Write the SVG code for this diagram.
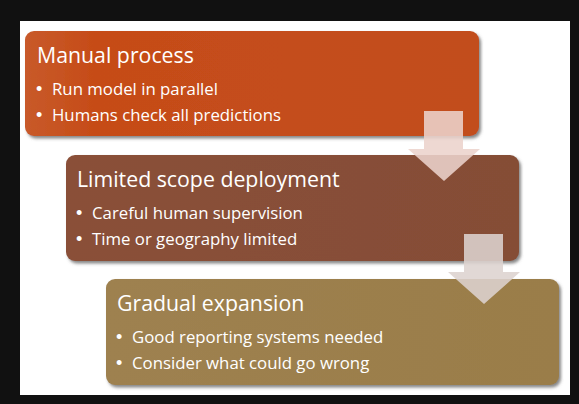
<svg xmlns="http://www.w3.org/2000/svg" width="579" height="404" viewBox="0 0 579 404">
  <defs>
    <filter id="sh" x="-5%" y="-10%" width="115%" height="130%">
      <feDropShadow dx="2" dy="2.5" stdDeviation="1.6" flood-color="#555" flood-opacity="0.7"/>
    </filter>
    <linearGradient id="g1" x1="0" y1="0" x2="1" y2="0">
      <stop offset="0" stop-color="#C85A2A"/>
      <stop offset="0.15" stop-color="#C64C18"/>
      <stop offset="1" stop-color="#C24E1E"/>
    </linearGradient>
    <linearGradient id="g2" x1="0" y1="0" x2="1" y2="0">
      <stop offset="0" stop-color="#8A5039"/>
      <stop offset="1" stop-color="#854D36"/>
    </linearGradient>
    <linearGradient id="g3" x1="0" y1="0" x2="1" y2="0">
      <stop offset="0" stop-color="#9E8150"/>
      <stop offset="1" stop-color="#9A7D49"/>
    </linearGradient>
    <style>
      .box { filter: url(#sh); }
      .title { font-family: "Open Sans", "Noto Sans", sans-serif; font-size: 21.3px; fill: #FFFFFF; }
      .item { font-family: "Open Sans", "Noto Sans", sans-serif; font-size: 16.8px; fill: #FFFFFF; }
      .bul { font-family: "Liberation Sans", sans-serif; font-size: 18px; fill: #FFFFFF; }
      .a1 { fill: #ECD3CC; fill-opacity: 0.88; }
      .a2 { fill: #DDD3CF; fill-opacity: 0.88; }
    </style>
  </defs>
  <rect x="0" y="0" width="579" height="404" fill="#111111"/>
  <rect x="20" y="21" width="550" height="374" fill="#FFFFFF"/>

  <g id="node-manual">
    <rect class="box" x="25" y="31" width="454" height="105" rx="9" fill="url(#g1)"/>
    <text class="title" x="37" y="63">Manual process</text>
    <text class="bul" x="36" y="95">•</text>
    <text class="item" x="52" y="95">Run model in parallel</text>
    <text class="bul" x="36" y="121">•</text>
    <text class="item" x="52" y="121">Humans check all predictions</text>
  </g>

  <g id="node-limited">
    <rect class="box" x="66" y="155" width="453" height="106" rx="9" fill="url(#g2)"/>
    <text class="title" x="77" y="187">Limited scope deployment</text>
    <text class="bul" x="76" y="219">•</text>
    <text class="item" x="92" y="219">Careful human supervision</text>
    <text class="bul" x="76" y="245">•</text>
    <text class="item" x="92" y="245">Time or geography limited</text>
  </g>

  <g id="node-gradual">
    <rect class="box" x="106" y="279" width="453" height="106" rx="9" fill="url(#g3)"/>
    <text class="title" x="117" y="311">Gradual expansion</text>
    <text class="bul" x="116" y="343">•</text>
    <text class="item" x="132" y="343">Good reporting systems needed</text>
    <text class="bul" x="116" y="369">•</text>
    <text class="item" x="132" y="369">Consider what could go wrong</text>
  </g>

  <g id="connectors">
    <polygon class="a1" points="424,111 463,111 463,149 480,149 444,181 408,149 424,149"/>
    <polygon class="a2" points="464,234 503,234 503,272 520,272 484,304 448,272 464,272"/>
  </g>
</svg>
